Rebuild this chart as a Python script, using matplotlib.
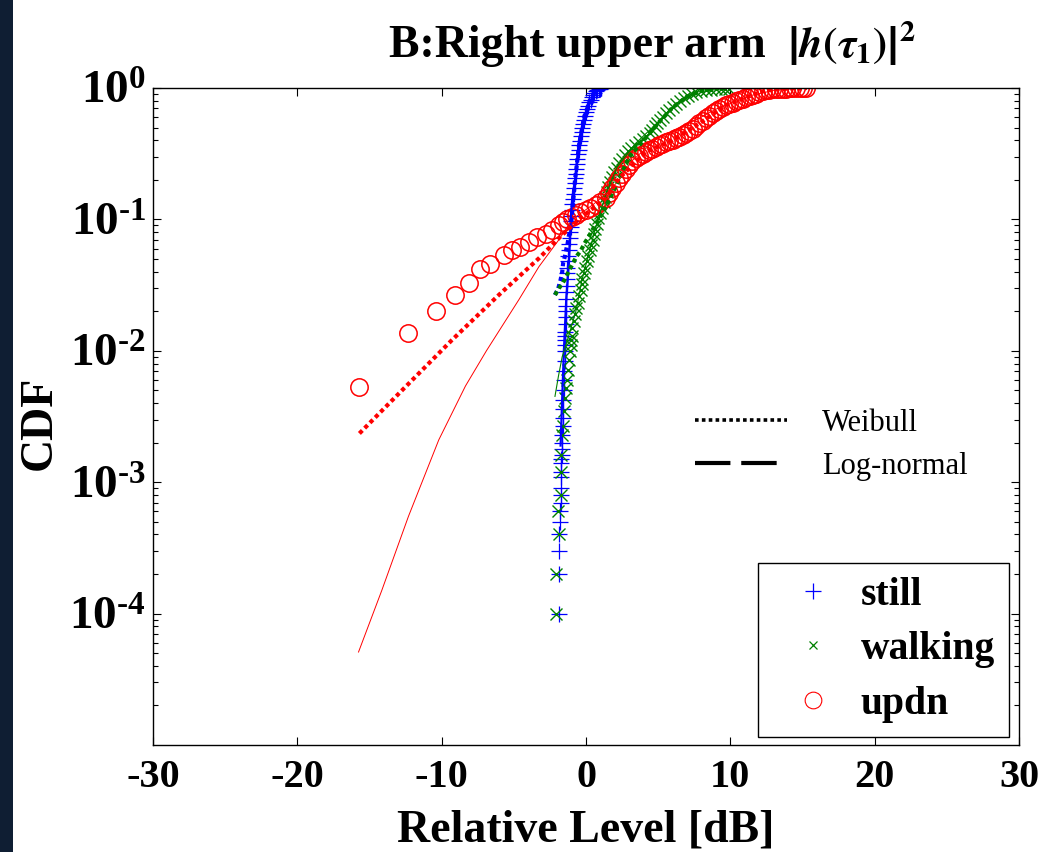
import numpy as np
import matplotlib.pyplot as plt
from matplotlib.lines import Line2D
from matplotlib.patches import Rectangle
from matplotlib.ticker import NullFormatter, LogLocator

plt.rcParams['font.family'] = 'Liberation Serif'
plt.rcParams['font.weight'] = 'bold'
plt.rcParams['mathtext.fontset'] = 'custom'
plt.rcParams['mathtext.rm'] = 'Liberation Serif:bold'
plt.rcParams['mathtext.bf'] = 'Liberation Serif:bold'
plt.rcParams['mathtext.it'] = 'Liberation Serif:italic:bold'

still_db = [-1.88, -1.88, -1.85, -1.85, -1.78, -1.78, -1.75, -1.75, -1.75, -1.72,
            -1.72, -1.70, -1.70, -1.68, -1.66, -1.66, -1.64, -1.62, -1.60, -1.58,
            -1.56, -1.54, -1.52, -1.50, -1.48,
            -1.45, -1.45, -1.44, -1.43, -1.43, -1.41, -1.40, -1.39, -1.38, -1.37,
            -1.36, -1.35, -1.34, -1.33, -1.32, -1.28, -1.25, -1.21, -1.18, -1.14,
            -1.10, -1.07, -1.04, -1.01, -0.97, -0.94, -0.90, -0.86, -0.82, -0.78,
            -0.75, -0.71, -0.67, -0.63, -0.59, -0.55, -0.51, -0.47, -0.42, -0.37,
            -0.31, -0.25, -0.19, -0.13, -0.07, -0.02, 0.06, 0.14, 0.23, 0.32,
            0.41, 0.50, 0.58, 0.68, 0.78, 0.88, 0.96, 1.02, 1.05]
still_cdf = [1e-4, 2e-4, 3e-4, 4e-4, 5e-4, 6e-4, 7e-4, 8e-4, 9e-4, 1.1e-3,
             1.2e-3, 1.4e-3, 1.5e-3, 1.6e-3, 1.8e-3, 2.0e-3, 2.3e-3, 2.7e-3, 3.1e-3, 3.6e-3,
             4.2e-3, 5.0e-3, 6.0e-3, 7.0e-3, 8.3e-3,
             0.010, 0.011, 0.012, 0.013, 0.014, 0.016, 0.018, 0.020, 0.022, 0.025,
             0.028, 0.031, 0.035, 0.039, 0.043, 0.048, 0.053, 0.059, 0.065, 0.072,
             0.080, 0.088, 0.097, 0.107, 0.118, 0.130, 0.143, 0.157, 0.172, 0.188,
             0.205, 0.223, 0.243, 0.265, 0.288, 0.313, 0.340, 0.368, 0.398, 0.430,
             0.463, 0.498, 0.535, 0.573, 0.612, 0.652, 0.693, 0.735, 0.776, 0.815,
             0.852, 0.886, 0.916, 0.942, 0.963, 0.979, 0.990, 0.996, 1.000]

walk_db = [-2.10, -2.08, -1.88, -1.94, -1.76, -1.76, -1.72, -1.66, -1.62, -1.53,
           -1.46, -1.38, -1.32, -1.25, -1.18,
           -1.10, -1.06, -1.02, -0.99, -0.95, -0.86, -0.75, -0.66, -0.57, -0.47,
           -0.38, -0.30, -0.25, -0.13, -0.04, 0.06, 0.16, 0.26, 0.38, 0.48,
           0.56, 0.65, 0.76, 0.86, 1.00, 1.12, 1.23, 1.33, 1.43, 1.55,
           1.68, 1.82, 1.97, 2.12, 2.30, 2.50, 2.70, 2.92, 3.15, 3.40,
           3.65, 3.92, 4.18, 4.40, 4.58, 4.75, 4.92, 5.12, 5.32, 5.52,
           5.75, 6.00, 6.25, 6.52, 6.80, 7.08, 7.35, 7.65, 7.95, 8.30,
           8.65, 9.00, 9.35, 9.65, 9.90]
walk_cdf = [1e-4, 2e-4, 4e-4, 6e-4, 8e-4, 1.2e-3, 1.6e-3, 2.3e-3, 2.7e-3, 3.5e-3,
            4.4e-3, 5.2e-3, 6.0e-3, 7.2e-3, 8.5e-3,
            0.010, 0.011, 0.012, 0.013, 0.015, 0.017, 0.019, 0.021, 0.023, 0.026,
            0.029, 0.032, 0.035, 0.039, 0.043, 0.048, 0.053, 0.058, 0.064, 0.070,
            0.077, 0.085, 0.093, 0.102, 0.112, 0.123, 0.135, 0.148, 0.162, 0.177,
            0.193, 0.210, 0.228, 0.248, 0.270, 0.290, 0.310, 0.330, 0.350, 0.370,
            0.390, 0.410, 0.432, 0.455, 0.480, 0.510, 0.540, 0.570, 0.605, 0.640,
            0.680, 0.720, 0.760, 0.800, 0.840, 0.875, 0.905, 0.930, 0.950, 0.962,
            0.970, 0.975, 0.980, 0.985, 0.990]

updn_db = [-15.76, -12.34, -10.37, -9.10, -8.12, -7.31, -6.62, -5.69, -5.12, -4.54,
           -3.96, -3.38, -2.80, -2.34, -1.88, -1.60, -1.30, -1.00, -0.72, -0.40,
           -0.02, 0.30, 0.67, 1.00, 1.37, 1.60, 1.83, 2.06, 2.29, 2.52,
           2.75, 2.98, 3.22, 3.45, 3.68, 3.92, 4.15, 4.38, 4.60, 4.84,
           5.07, 5.30, 5.53, 5.76, 6.00, 6.23, 6.46, 6.69, 6.92, 7.15,
           7.38, 7.62, 7.85, 8.08, 8.30, 8.54, 8.77, 9.00, 9.23, 9.46,
           9.70, 9.93, 10.16, 10.39, 10.62, 10.86, 11.10, 11.33, 11.55, 11.78,
           12.00, 12.24, 12.48, 12.70, 12.90, 13.15, 13.40, 13.63, 13.87, 14.10,
           14.30, 14.55, 14.80, 15.05, 15.26]
updn_cdf = [5.3e-3, 0.0136, 0.0201, 0.0266, 0.0327, 0.0417, 0.046, 0.0537, 0.059, 0.062,
            0.0676, 0.074, 0.078, 0.083, 0.091, 0.095, 0.100, 0.104, 0.108, 0.113,
            0.118, 0.123, 0.129, 0.136, 0.145, 0.158, 0.172, 0.188, 0.205, 0.222,
            0.240, 0.260, 0.280, 0.294, 0.305, 0.316, 0.327, 0.336, 0.345, 0.356,
            0.368, 0.377, 0.385, 0.393, 0.402, 0.413, 0.425, 0.438, 0.452, 0.470,
            0.490, 0.512, 0.537, 0.563, 0.590, 0.615, 0.641, 0.665, 0.690, 0.716,
            0.742, 0.759, 0.775, 0.792, 0.810, 0.830, 0.850, 0.868, 0.885, 0.905,
            0.925, 0.943, 0.960, 0.968, 0.975, 0.980, 0.985, 0.988, 0.990, 0.992,
            0.993, 0.995, 0.996, 0.998, 1.000]

# ---- fitted curves ----
still_wb_db = [-2.15, -1.92, -1.76, -1.65, -1.58, -1.46, -1.37, -1.27, -1.18, -1.06,
               -0.76, -0.49, -0.14, 0.33, 0.79, 1.05]
still_wb_cdf = [0.0266, 0.0299, 0.0347, 0.0398, 0.0468, 0.0525, 0.0589, 0.066, 0.0759, 0.0851,
                0.20, 0.36, 0.60, 0.82, 0.97, 1.0]
still_ln_db = [-1.76, -1.65, -1.53, -1.37, -1.18, -1.06, -0.95, -0.76, -0.49, -0.14, 0.33, 0.79, 1.05]
still_ln_cdf = [1.9e-3, 4.3e-3, 0.0102, 0.0245, 0.047, 0.10, 0.148, 0.20, 0.40, 0.60, 0.81, 0.966, 1.0]

walk_wb_db = [-2.15, -1.88, -1.60, -1.37, -1.13, -0.88, -0.65, -0.37, -0.09, 0.16,
              0.44, 0.72, 1.25, 1.83, 2.10, 3.00, 4.00, 5.00, 6.00, 7.00, 8.00, 9.00, 9.90]
walk_wb_cdf = [0.0266, 0.0299, 0.033, 0.0366, 0.0417, 0.0468, 0.0525, 0.0575, 0.066, 0.073,
               0.083, 0.093, 0.117, 0.158, 0.182, 0.30, 0.40, 0.54, 0.71, 0.86, 0.95, 0.99, 1.0]
walk_ln_db = [-2.15, -1.90, -1.65, -1.20, -0.70, -0.27, 0.20, 0.67, 1.37, 2.15,
              3.45, 4.84, 6.20, 7.60, 9.90]
walk_ln_cdf = [4.5e-3, 6.5e-3, 9.0e-3, 0.013, 0.020, 0.035, 0.055, 0.087, 0.155, 0.25,
               0.38, 0.53, 0.76, 0.93, 1.0]

updn_wb_db = [-15.7, -12.52, -9.28, -6.04, -3.26, -1.88, -0.50, 1.37, 2.29, 4.15,
              6.00, 7.85, 9.70, 11.55, 12.48, 14.0, 15.3]
updn_wb_cdf = [2.35e-3, 5.3e-3, 0.0121, 0.0266, 0.0506, 0.072, 0.10, 0.145, 0.205, 0.327,
               0.40, 0.537, 0.742, 0.885, 0.96, 0.99, 1.0]
updn_ln_db = [-15.76, -14.15, -12.3, -10.2, -8.35, -6.9, -4.65, -3.26, -1.88, -0.95,
              0.50, 1.50, 2.30, 3.20, 5.00, 7.85, 9.00, 9.70, 11.5, 13.0, 14.5, 15.3]
updn_ln_cdf = [5.1e-5, 1.5e-4, 5.5e-4, 2.1e-3, 5.4e-3, 0.010, 0.0245, 0.0437, 0.070, 0.10,
               0.13, 0.16, 0.20, 0.28, 0.42, 0.59, 0.69, 0.74, 0.88, 0.96, 0.99, 1.0]

ytick_vals = [1e-4, 1e-3, 1e-2, 1e-1, 1e0]
ytick_text = ['$\\mathbf{10^{\u20104}}$', '$\\mathbf{10^{\u20103}}$', '$\\mathbf{10^{\u20102}}$',
              '$\\mathbf{10^{\u20101}}$', '$\\mathbf{10^{0}}$']
xtick_vals = [-30, -20, -10, 0, 10, 20, 30]

fig = plt.figure(figsize=(10.55, 8.52), dpi=100)
# dark strip on the left edge of the screenshot
fig.add_artist(Rectangle((0, 0), 13 / 1055, 1, transform=fig.transFigure,
                         facecolor='#0f1e33', edgecolor='none', zorder=0))
ax = fig.add_axes([153 / 1055, 1 - 745 / 852, 866 / 1055, 657 / 852])

dot = (0, (1, 0.8))
ax.plot(still_db, still_cdf, '+', color='#0000ff', ms=12, mew=0.9, ls='none')
ax.plot(walk_db, walk_cdf, 'x', color='#008000', ms=8, mew=1.0, ls='none')
ax.plot(updn_db, updn_cdf, 'o', color='#ff0000', ms=12.5, mew=1.1, mfc='none', ls='none')

ax.plot(still_ln_db, still_ln_cdf, color='#0000ff', lw=1.6)
ax.plot(walk_ln_db, walk_ln_cdf, color='#008000', lw=0.8)
ax.plot(updn_ln_db, updn_ln_cdf, color='#ff0000', lw=0.7)
ax.plot(still_wb_db, still_wb_cdf, color='#0000ff', lw=3, ls=dot)
ax.plot(walk_wb_db, walk_wb_cdf, color='#008000', lw=3, ls=dot)
ax.plot(updn_wb_db, updn_wb_cdf, color='#ff0000', lw=3, ls=dot)

ax.set_yscale('log')
ax.set_xlim(-30, 30)
ax.set_ylim(1e-5, 1)
ax.set_xticks(xtick_vals)
ax.set_xticklabels([str(v) for v in xtick_vals], fontsize=29, fontweight='bold')
ax.set_yticks(ytick_vals)
ax.set_yticklabels(ytick_text, fontsize=34)
ax.yaxis.set_minor_locator(LogLocator(base=10, subs=np.arange(2, 10)))
ax.yaxis.set_minor_formatter(NullFormatter())
ax.tick_params(which='both', direction='in', top=True, right=True, width=0.8)
ax.tick_params(which='major', length=6)
ax.tick_params(which='minor', length=3.5)
ax.tick_params(axis='x', which='major', pad=10)
ax.tick_params(axis='y', which='major', pad=5)
for s in ax.spines.values():
    s.set_linewidth(1.0)

ax.set_xlabel('Relative Level [dB]', fontsize=33, fontweight='bold', labelpad=10)
ax.set_ylabel('CDF', fontsize=33, fontweight='bold')
ax.yaxis.set_label_coords(-0.106, 0.49)

fig.text(389 / 1055, 1 - 57 / 852, 'B:Right upper arm', fontsize=33,
         fontweight='bold', ha='left', va='baseline')
fig.text(787 / 1055, 1 - 57 / 852, r'$\left|h(\tau_1)\right|^2$', fontsize=31,
         math_fontfamily='stix', ha='left', va='baseline')

# line-style legend (no frame)
style_handles = [Line2D([], [], color='black', lw=2.6, ls=(0, (1, 0.9))),
                 Line2D([], [], color='black', lw=3, ls=(0, (8.5, 2.6)))]
leg1 = ax.legend(style_handles, ['Weibull', 'Log-normal'], loc='upper left',
                 bbox_to_anchor=((695 - 153) / 866, 1 - (409 - 88) / 657),
                 frameon=False, borderpad=0, borderaxespad=0, handlelength=3.0,
                 handletextpad=1.15, labelspacing=0.45,
                 prop={'family': 'Liberation Serif', 'weight': 'normal', 'size': 22})
ax.add_artist(leg1)

# marker legend
mark_handles = [Line2D([], [], marker='+', color='#0000ff', ms=12, mew=0.9, ls='none'),
                Line2D([], [], marker='x', color='#008000', ms=6, mew=0.9, ls='none'),
                Line2D([], [], marker='o', color='#ff0000', ms=12, mew=0.8, mfc='none', ls='none')]
leg2 = ax.legend(mark_handles, ['still', 'walking', 'updn'], loc='lower right',
                 bbox_to_anchor=((1009 - 153) / 866, 1 - (737 - 88) / 657),
                 borderaxespad=0, borderpad=0.35, handlelength=2.1, handletextpad=0.15,
                 labelspacing=0.45, fancybox=False, framealpha=1, edgecolor='black',
                 prop={'family': 'Liberation Serif', 'weight': 'bold', 'size': 28.5})
leg2.get_frame().set_linewidth(1.0)

fig.savefig('out.png', dpi=100)
